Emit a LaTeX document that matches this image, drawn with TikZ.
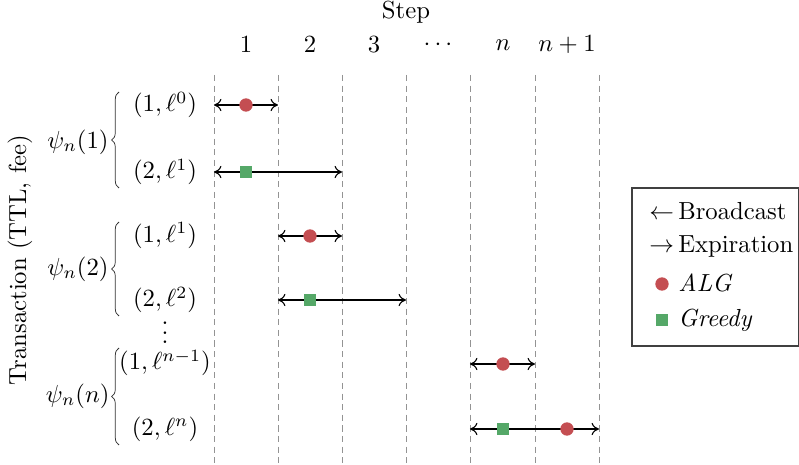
\documentclass[tikz,border=0pt]{standalone}
\usetikzlibrary{arrows.meta,decorations.pathreplacing}
\definecolor{algred}{RGB}{196,78,82}
\definecolor{grgreen}{RGB}{85,168,104}
\begin{document}
\begin{tikzpicture}[x=0.405pt,y=-0.405pt,
  gridline/.style={gray!85,dashed,dash pattern=on 2.5pt off 1.8pt,line width=0.4pt},
  span/.style={{To[length=3pt,width=5pt]}-{To[length=3pt,width=5pt]},line width=0.42pt},
  algmark/.style={circle,fill=algred,inner sep=0pt,minimum size=5.4pt},
  grmark/.style={rectangle,fill=grgreen,inner sep=0pt,minimum size=5.2pt},
  lbl/.style={inner sep=0pt},
  bracestyle/.style={decorate,decoration={brace,amplitude=3pt,aspect=0.5},line width=0.3pt,draw=black!80}]
\useasboundingbox (0,0) rectangle (799,465);
% grid lines
\foreach \i/\x in {0/214,1/278,2/342,3/406,4/470,5/535,6/599}{
  \coordinate (gt\i) at (\x,75);
  \coordinate (gb\i) at (\x,463);
  \draw[gridline] (gt\i) -- (gb\i);
}
% header
\node[lbl] (step) at (406,12) {Step};
\node[lbl] (h1) at (246,45) {$1$};
\node[lbl] (h2) at (310,45) {$2$};
\node[lbl] (h3) at (374,45) {$3$};
\node[lbl] (h4) at (438,45) {$\cdots$};
\node[lbl] (h5) at (503,45) {$n$};
\node[lbl] (h6) at (567,45) {$n+1$};
% row labels
\node[lbl] (l1) at (165,105) {$(1,\ell^{0})$};
\node[lbl] (l2) at (165,172) {$(2,\ell^{1})$};
\node[lbl] (l3) at (165,236) {$(1,\ell^{1})$};
\node[lbl] (l4) at (165,300) {$(2,\ell^{2})$};
\node[lbl,anchor=base] (ld) at (165,344) {$\smash{\vdots}$};
\node[lbl] (l5) at (165,363) {$(1,\ell^{n-1})$};
\node[lbl] (l6) at (165,429) {$(2,\ell^{n})$};
% braces
\coordinate (b1t) at (119,92);  \coordinate (b1b) at (119,188);
\coordinate (b2t) at (119,222); \coordinate (b2b) at (119,316);
\coordinate (b3t) at (119,348); \coordinate (b3b) at (119,445);
\draw[bracestyle] (b1b) -- (b1t);
\draw[bracestyle] (b2b) -- (b2t);
\draw[bracestyle] (b3b) -- (b3t);
\node[lbl,anchor=east] (p1) at (109,142) {$\psi_n(1)$};
\node[lbl,anchor=east] (p2) at (109,269) {$\psi_n(2)$};
\node[lbl,anchor=east] (p3) at (110,396) {$\psi_n(n)$};
\node[lbl,rotate=90] (ylab) at (20,260) {Transaction (TTL, fee)};
% spans
\coordinate (a1s) at (214,105); \coordinate (a1e) at (278,105);
\coordinate (a2s) at (214,172); \coordinate (a2e) at (342,172);
\coordinate (a3s) at (278,236); \coordinate (a3e) at (342,236);
\coordinate (a4s) at (278,300); \coordinate (a4e) at (406,300);
\coordinate (a5s) at (470,364); \coordinate (a5e) at (535,364);
\coordinate (a6s) at (470,429); \coordinate (a6e) at (599,429);
\foreach \k in {1,...,6}{\draw[span] (a\k s) -- (a\k e);}
\node[algmark] (m1) at (246,105) {};
\node[grmark]  (m2) at (246,172) {};
\node[algmark] (m3) at (310,236) {};
\node[grmark]  (m4) at (310,300) {};
\node[algmark] (m5) at (503,364) {};
\node[grmark]  (m6) at (503,429) {};
\node[algmark] (m7) at (567,429) {};
% legend
\draw[line width=0.45pt,draw=black!75] (632,188) rectangle (798.5,346);
\node[lbl,anchor=base west] (lg1) at (649,220) {$\leftarrow$\,Broadcast};
\node[lbl,anchor=base west] (lg2) at (649,253) {$\rightarrow$\,Expiration};
\node[algmark] (lm1) at (662,284) {};
\node[lbl,anchor=base west] (lg3) at (678,292) {\textit{ALG}};
\node[grmark] (lm2) at (662,320) {};
\node[lbl,anchor=base west] (lg4) at (678,327) {\textit{Greedy}};
\end{tikzpicture}
\end{document}
